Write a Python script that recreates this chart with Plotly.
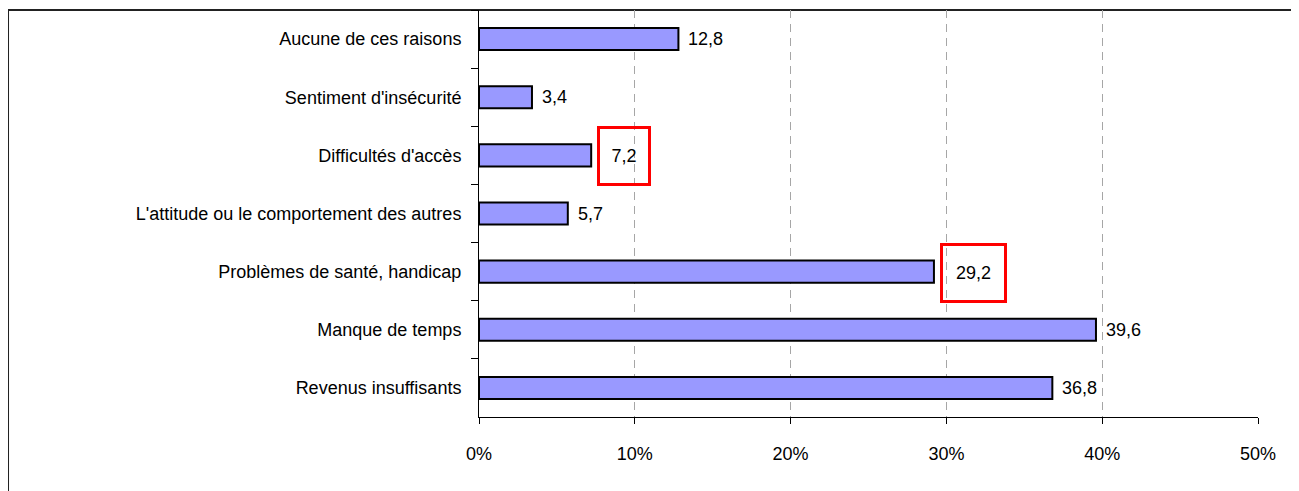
import plotly.graph_objects as go

# Données (de haut en bas)
raisons = [
    "Aucune de ces raisons",
    "Sentiment d'insécurité",
    "Difficultés d'accès",
    "L'attitude ou le comportement des autres",
    "Problèmes de santé, handicap",
    "Manque de temps",
    "Revenus insuffisants",
]
pourcentages = [12.8, 3.4, 7.2, 5.7, 29.2, 39.6, 36.8]
encadres = ["Difficultés d'accès", "Problèmes de santé, handicap"]
x_ticks = [0, 10, 20, 30, 40, 50]
x_labels = [f"{t}%" for t in x_ticks]

fig = go.Figure()
fig.add_trace(go.Bar(
    x=pourcentages, y=raisons, orientation="h",
    marker=dict(color="#9999FF", line=dict(color="black", width=2)),
    hoverinfo="skip",
))

# Étiquettes de valeur (format français)
for r, v in zip(raisons, pourcentages):
    texte = f"{v:.1f}".replace(".", ",")
    if r in encadres:
        largeur = 46 if v < 10 else 59
        fig.add_annotation(
            x=v, y=r, text=texte, showarrow=False, xanchor="left",
            xshift=6, yshift=-1, width=largeur, height=52, align="center",
            bordercolor="#FF0000", borderwidth=3, borderpad=1,
        )
    else:
        fig.add_annotation(
            x=v, y=r, text=texte, showarrow=False, xanchor="left", xshift=8,
        )

# Cadre extérieur
fig.add_shape(
    type="rect", xref="paper", yref="paper",
    x0=-0.6046, x1=1.08, y0=-0.25, y1=1.0,
    line=dict(color="#222222", width=2), layer="below",
)

fig.update_layout(
    width=1291, height=483,
    margin=dict(l=471, r=41, t=2, b=74),
    paper_bgcolor="white", plot_bgcolor="white",
    font=dict(family="Liberation Sans, Arial, sans-serif", size=18, color="black"),
    bargap=0.62, showlegend=False,
    xaxis=dict(
        range=[0, 50], tickvals=x_ticks, ticktext=x_labels,
        showline=True, linecolor="black", linewidth=1,
        ticks="outside", ticklen=6, tickcolor="black",
        showgrid=True, gridcolor="#A6A6A6", gridwidth=1, griddash="8px,6px",
        zeroline=False, ticklabelstandoff=14, fixedrange=True,
    ),
    yaxis=dict(
        autorange="reversed", showline=True, linecolor="black", linewidth=1,
        ticks="outside", ticklen=7, tickcolor="black", tickson="boundaries",
        showgrid=False, ticklabelstandoff=13, fixedrange=True,
    ),
)

fig.write_html("out.html")
